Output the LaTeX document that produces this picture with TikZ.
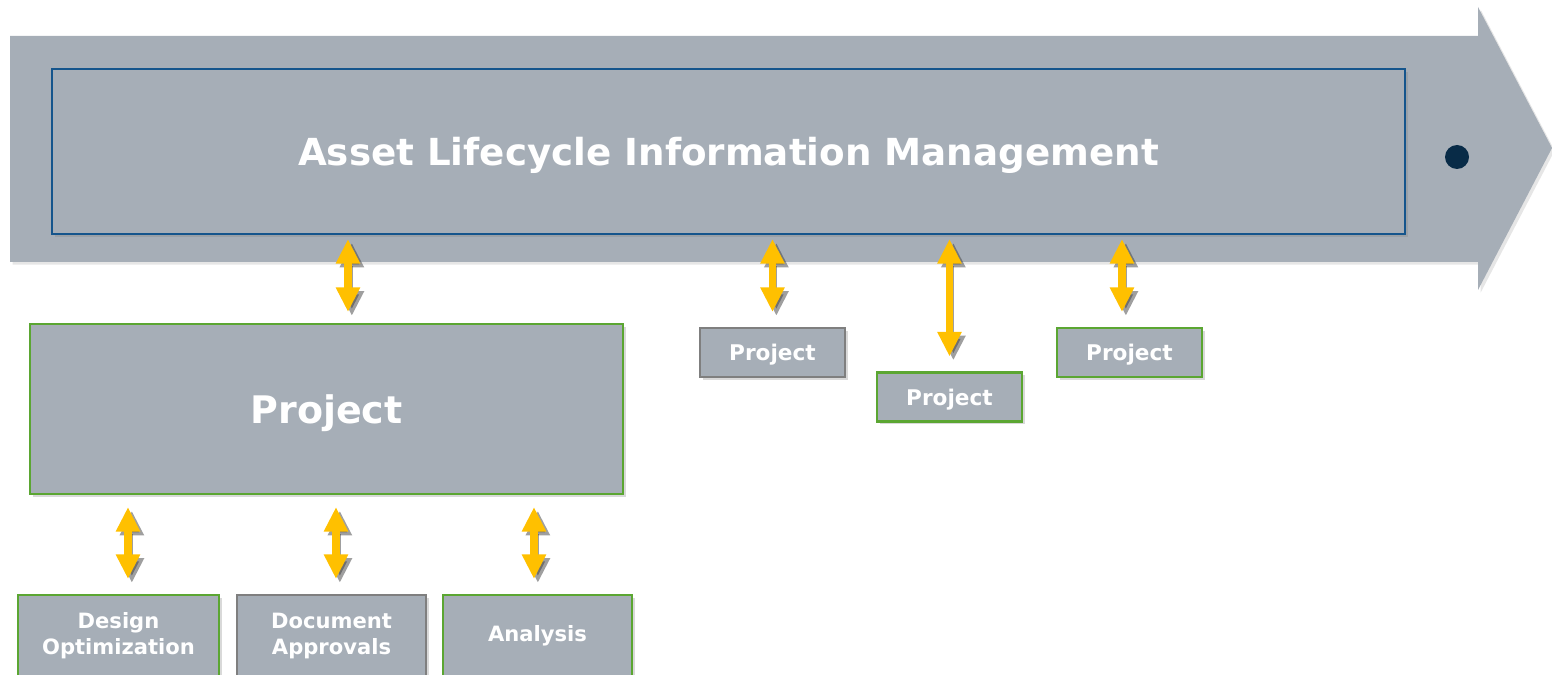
\documentclass[tikz,border=0pt]{standalone}
\usepackage{fontspec}
\setmainfont{DejaVu Sans}
\usetikzlibrary{arrows.meta,shadows}
\definecolor{slate}{HTML}{A6AEB7}
\definecolor{frameblue}{HTML}{15558C}
\definecolor{framegreen}{HTML}{5BA632}
\definecolor{framegray}{HTML}{7F7F7F}
\definecolor{linkyellow}{HTML}{FFC000}
\definecolor{dotnavy}{HTML}{082B47}
\tikzset{
  box/.style={rectangle, fill=slate, line width=1.2pt, text=white, font=\bfseries, align=center,
    drop shadow={opacity=0.3, shadow xshift=1.5pt, shadow yshift=-1.5pt}},
  link/.style={line width=4.5pt, linkyellow, {Triangle[width=13pt,length=14pt]}-{Triangle[width=13pt,length=14pt]},
    preaction={draw=black!75, opacity=0.5, transform canvas={shift={(2.2pt,-2.2pt)}}}},
}
\begin{document}
\begin{tikzpicture}[x=0.02cm,y=-0.02cm]
\useasboundingbox (0,0) rectangle (1552,675);
\clip (0,0) rectangle (1552,675);
\fill[slate, drop shadow={opacity=0.2, shadow xshift=1.5pt, shadow yshift=-1.5pt}]
  (10,36) -- (1478,36) -- (1478,7) -- (1552,148) -- (1478,290) -- (1478,262) -- (10,262) -- cycle;
\node[box, draw=frameblue, minimum width=27.06cm, minimum height=3.3cm, text depth=0pt, font=\bfseries\fontsize{21.2}{25}\selectfont] (alim) at (728.5,151.5){Asset Lifecycle Information Management};
\node[circle, fill=dotnavy, minimum size=0.48cm, inner sep=0pt] (dot) at (1457,157){};
\node[box, draw=framegreen, minimum width=11.86cm, minimum height=3.4cm, text depth=0pt, font=\bfseries\fontsize{21.6}{26}\selectfont] (proj) at (326.5,409){Project};
\node[box, draw=framegray, minimum width=2.9cm, minimum height=0.98cm, text depth=0pt, font=\bfseries\fontsize{12.3}{15}\selectfont] (proja) at (772.5,352.5){Project};
\node[box, draw=framegreen, minimum width=2.9cm, minimum height=0.98cm, text depth=0pt, font=\bfseries\fontsize{12.3}{15}\selectfont] (projb) at (949.5,397){Project};
\node[box, draw=framegreen, minimum width=2.9cm, minimum height=0.98cm, text depth=0pt, font=\bfseries\fontsize{12.3}{15}\selectfont] (projc) at (1129.5,352.5){Project};
\node[box, draw=framegreen, minimum width=4.02cm, minimum height=1.64cm, font=\bfseries\fontsize{12}{15}\selectfont] (design) at (118.5,636){Design\\Optimization};
\node[box, draw=framegray, minimum width=3.78cm, minimum height=1.64cm, font=\bfseries\fontsize{12}{15}\selectfont] (approv) at (331.5,636){Document\\Approvals};
\node[box, draw=framegreen, minimum width=3.78cm, minimum height=1.64cm, font=\bfseries\fontsize{12}{15}\selectfont] (analysis) at (537.5,636){Analysis};
\draw[link, shorten <=0.08cm, shorten >=0.22cm] (alim.south -| 348,0) -- (proj.north -| 348,0);
\draw[link, shorten <=0.08cm, shorten >=0.3cm] (alim.south -| proja.north) -- (proja.north);
\draw[link, shorten <=0.08cm, shorten >=0.3cm] (alim.south -| projb.north) -- (projb.north);
\draw[link, shorten <=0.08cm, shorten >=0.3cm] (alim.south -| 1122,0) -- (projc.north -| 1122,0);
\draw[link, shorten <=0.24cm, shorten >=0.3cm] (proj.south -| 128,0) -- (design.north -| 128,0);
\draw[link, shorten <=0.24cm, shorten >=0.3cm] (proj.south -| 336,0) -- (approv.north -| 336,0);
\draw[link, shorten <=0.24cm, shorten >=0.3cm] (proj.south -| 534,0) -- (analysis.north -| 534,0);
\end{tikzpicture}
\end{document}
